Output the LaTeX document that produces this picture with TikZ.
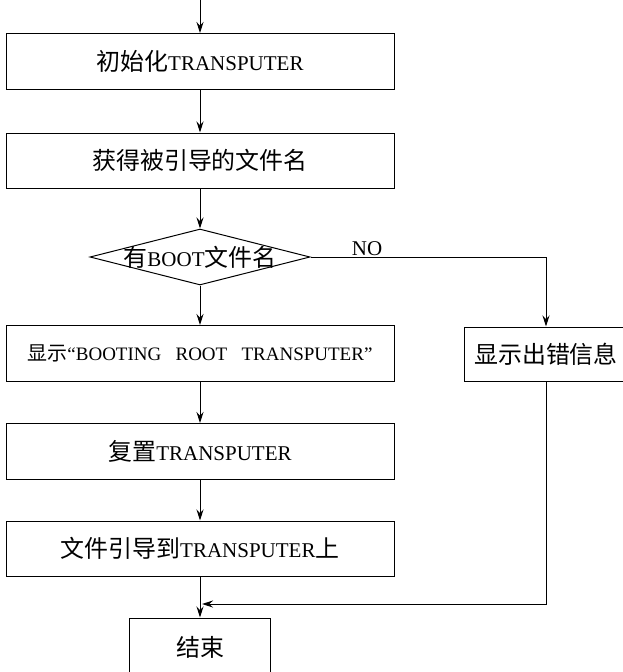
\documentclass[tikz,border=0pt]{standalone}
\usepackage{fontspec}
\setmainfont{Liberation Serif}
\newfontfamily\cjk{Noto Sans CJK SC}[Scale=1.14]
\newcommand{\zh}[1]{{\cjk #1}}
\usetikzlibrary{shapes.geometric,arrows.meta}
\begin{document}
\begin{tikzpicture}[x=1pt,y=-1pt,
  box/.style={draw, line width=1pt, rectangle, inner sep=0pt, minimum width=388pt, minimum height=56pt, font=\fontsize{21}{25}\selectfont},
  dec/.style={draw, line width=1pt, shape=diamond, inner sep=0pt, minimum width=220pt, minimum height=56pt},
  lbl/.style={inner sep=0pt, font=\fontsize{21}{25}\selectfont},
  flow/.style={draw, line width=1pt, -{Stealth[length=11pt,width=7pt]}},
  plain/.style={draw, line width=1pt}]
\useasboundingbox (0,0) rectangle (622,672);
\coordinate (top) at (200,0);
\node[box] (b1) at (200,61.5) {\zh{初始化}TRANSPUTER};
\node[box, minimum height=55pt] (b2) at (200,160.5) {\zh{获得被引导的文件名}};
\node[dec] (d) at (200,257) {};
\node[lbl] (dt) at (d.center) {\zh{有}BOOT\zh{文件名}};
\node[box, font=\fontsize{19}{22}\selectfont] (b3) at (200,353.5) {{\fontsize{17.5}{20}\selectfont\zh{显示}}“BOOTING\hspace{0.75em}ROOT\hspace{0.75em}TRANSPUTER”};
\node[box, minimum width=164pt, minimum height=54pt] (err) at (546,354) {\zh{显示出错信息}};
\node[box] (b4) at (200,451.5) {\zh{复置}TRANSPUTER};
\node[box, minimum height=55pt] (b5) at (200,548.5) {\zh{文件引导到}TRANSPUTER\zh{上}};
\node[box, minimum width=141pt, minimum height=72pt] (e) at (200,654) {};
\node[lbl] (et) at (200,647) {\zh{结束}};
\coordinate (m) at (200,604);
\coordinate (mt) at (202,604);

\draw[flow] (top) -- (b1.north);
\draw[flow] (b1.south) -- (b2.north);
\draw[flow] (b2.south) -- (d.north);
\draw[flow] (d.south) -- (b3.north);
\draw[flow] (b3.south) -- (b4.north);
\draw[flow] (b4.south) -- (b5.north);
\draw[plain] (b5.south) -- (m);
\draw[flow] (m) -- (e.north);
\draw[flow] (d.east) -| node[pos=0.12, above, inner sep=1pt, font=\fontsize{21}{25}\selectfont] {NO} (err.north);
\draw[flow] (err.south) |- (mt);
\end{tikzpicture}
\end{document}
